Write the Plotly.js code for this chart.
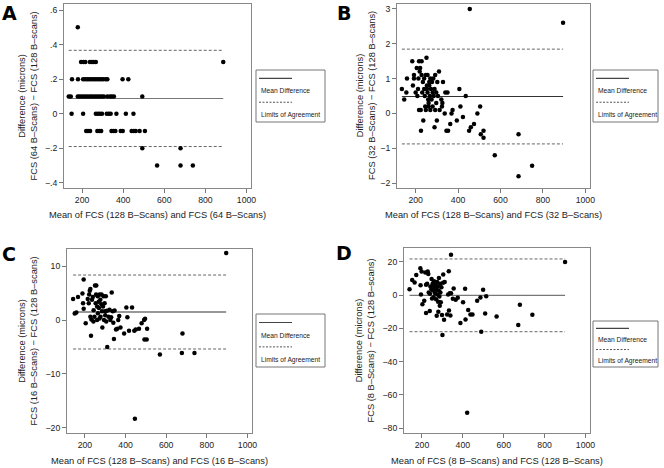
<!DOCTYPE html>
<html><head><meta charset="utf-8">
<script src="https://cdn.plot.ly/plotly-3.0.1.min.js"></script>
<style>html,body{margin:0;padding:0;background:#fff}#chart{width:664px;height:468px}</style>
</head><body><div id="chart"></div>
<script>
// ---------- Panel A : 64 vs 128 B-scans ----------
const xA = [179,
  195,207,216,238,248,257,267,887,
  151,180,205,215,225,234,244,254,264,274,284,293,303,315,323,397,425,
  135,145,179,188,198,208,218,228,238,247,257,267,277,287,297,306,323,336,345,355,493,
  149,205,267,277,287,297,320,330,339,367,413,450,
  220,229,239,274,284,293,343,352,362,388,398,441,451,461,480,506,
  493,679,
  565,679,739];
const yA = [0.5,
  0.3,0.3,0.3,0.3,0.3,0.3,0.3,0.3,
  0.2,0.2,0.2,0.2,0.2,0.2,0.2,0.2,0.2,0.2,0.2,0.2,0.2,0.2,0.2,0.2,0.2,
  0.1,0.1,0.1,0.1,0.1,0.1,0.1,0.1,0.1,0.1,0.1,0.1,0.1,0.1,0.1,0.1,0.1,0.1,0.1,0.1,0.1,
  0,0,0,0,0,0,0,0,0,0,0,0,
  -0.1,-0.1,-0.1,-0.1,-0.1,-0.1,-0.1,-0.1,-0.1,-0.1,-0.1,-0.1,-0.1,-0.1,-0.1,-0.1,
  -0.2,-0.2,
  -0.3,-0.3,-0.3];
const meanA = 0.088, lowA = -0.19, highA = 0.367;
const yTicksA = [-0.4,-0.2,0,0.2,0.4,0.6];
const yTickTextA = ['\u2212.4','\u2212.2','0','.2','.4','.6'];

// ---------- Panel B : 32 vs 128 B-scans ----------
const xB = [455,895,135,146,156,159,184,187,192,192,200,205,208,211,213,216,216,219,221,224,225,228,228,231,234,236,240,240,243,245,248,248,251,253,253,256,256,259,261,261,264,264,267,269,269,272,275,277,280,280,283,285,289,289,292,292,297,297,300,302,305,310,313,321,324,326,329,337,340,345,350,353,363,369,374,394,406,411,423,436,452,460,475,491,504,507,520,520,573,685,685,749];
const yB = [3.0,2.6,0.7,0.4,0.6,1.0,1.5,0.8,1.1,1.0,0.6,1.3,0.5,0.7,1.0,1.5,0.1,1.2,1.3,0.1,-0.5,1.5,1.1,0.6,0.9,-0.2,1.0,0.7,0.5,0.2,1.1,0.1,1.6,0.8,0.7,0.6,1.1,0.4,0.3,0.2,0.9,0.8,0.5,1.0,0.1,0.7,0.4,0.9,0.6,0.2,1.0,0.5,0.7,-0.4,1.1,0.1,0.6,0.3,-0.2,0.9,0.5,1.2,0.1,0.4,0.2,0.3,0.9,0.0,0.6,-0.5,0.6,-0.5,-0.3,0.0,0.1,-0.2,0.7,0.2,-0.1,0.5,-0.5,-0.4,-0.3,0.0,0.2,-0.6,-0.5,-0.7,-1.2,-0.6,-1.8,-1.5];
const meanB = 0.485, lowB = -0.875, highB = 1.845;
const yTicksB = [-2,-1,0,1,2,3];

// ---------- Panel C : 16 vs 128 B-scans ----------
const xC = [895,142,150,158,166,188,194,191,194,204,214,219,221,224,227,230,227,232,235,239,242,243,247,250,253,255,256,260,260,263,264,268,269,272,272,276,277,281,282,284,286,289,292,294,297,299,300,303,305,308,310,316,321,325,329,332,337,340,343,346,353,359,364,369,375,393,404,409,417,432,443,446,450,466,479,491,496,493,504,506,569,680,677,739];
const yC = [12.4,3.9,1.2,1.4,4.25,4.9,7.5,3.1,2.1,-0.6,3.9,3.1,4.7,5.4,5.75,-2.9,0.6,0.1,3.75,4.25,-0.3,1.8,0.6,6.4,3.1,4.7,6.4,2.5,0.0,4.4,1.25,3.4,2.2,4.7,0.3,3.75,0.6,2.9,4.7,1.6,-1.4,2.5,4.4,0.0,3.1,1.6,0.9,4.4,-0.3,1.7,-5.0,0.6,1.9,0.0,0.5,5.1,1.6,-0.5,-3.5,1.75,-1.75,-1.6,0.0,0.75,-1.4,-2.5,2.3,0.5,-2.0,2.3,-2.0,-18.3,-1.75,-1.6,-0.6,0.0,0.25,-3.6,-3.6,-1.6,-6.4,-2.5,-6.1,-6.1];
const meanC = 1.48, lowC = -5.37, highC = 8.33;
const yTicksC = [-20,-10,0,10];

// ---------- Panel D : 8 vs 128 B-scans ----------
const xD = [900,342,139,152,164,172,192,193,195,198,202,211,216,220,220,225,228,231,233,238,239,241,246,247,249,252,254,256,257,259,261,264,264,267,269,270,272,274,275,277,279,280,282,283,285,287,288,290,292,295,298,300,303,304,308,311,323,328,331,332,336,339,342,351,355,365,375,388,401,411,413,421,426,437,447,470,486,490,499,509,514,565,671,679,740];
const yD = [20.0,24.4,3.6,9.2,7.6,12.2,16.2,6.0,0.4,14.2,-5.4,-3.4,13.6,-10.8,6.2,6.8,14.2,12.8,1.6,-9.6,0.8,5.2,3.6,9.8,-2.0,6.8,2.8,5.6,-1.2,8.4,4.4,1.2,7.2,6.0,-2.4,3.2,-12.4,8.0,0.4,5.2,-4.0,-10.0,2.8,10.4,-0.8,-6.4,6.8,1.6,-4.2,4.8,-12.0,-24.0,7.4,12.4,-14.8,8.0,-11.6,0.4,14.4,-9.2,1.2,-12.2,1.2,-2.2,4.0,-2.8,-1.6,-16.8,-4.2,3.8,-14.6,-70.8,-9.0,-11.6,-11.6,-3.4,-1.4,-22.0,3.2,-11.0,-0.6,-12.8,-18.0,-5.8,-11.8];
const meanD = -0.1, lowD = -22.0, highD = 21.8;
const yTicksD = [-80,-60,-40,-20,0,20];

const xTicks = [200,400,600,800,1000];

const W = 664, H = 468;
const FONT = '"Liberation Sans", Arial, Helvetica, sans-serif';
const px = v => v / W;
const py = v => 1 - v / H;

function panelTraces(x, y, mean, lo, hi, ax, solidColor) {
  const x0 = Math.min(...x), x1 = Math.max(...x);
  const xa = 'x' + ax, ya = 'y' + ax;
  return [
    {type:'scatter', mode:'lines', x:[x0,x1], y:[hi,hi], xaxis:xa, yaxis:ya,
     line:{color:'#666', width:1, dash:'3px,2px'}, hoverinfo:'skip', showlegend:false},
    {type:'scatter', mode:'lines', x:[x0,x1], y:[lo,lo], xaxis:xa, yaxis:ya,
     line:{color:'#666', width:1, dash:'3px,2px'}, hoverinfo:'skip', showlegend:false},
    {type:'scatter', mode:'lines', x:[x0,x1], y:[mean,mean], xaxis:xa, yaxis:ya,
     line:{color:solidColor, width:1.2}, hoverinfo:'skip', showlegend:false},
    {type:'scatter', mode:'markers', x:x, y:y, xaxis:xa, yaxis:ya,
     marker:{color:'#000', size:4.5}, showlegend:false}
  ];
}

const data = [].concat(
  panelTraces(xA, yA, meanA, lowA, highA, '', '#777'),
  panelTraces(xB, yB, meanB, lowB, highB, '2', '#333'),
  panelTraces(xC, yC, meanC, lowC, highC, '3', '#333'),
  panelTraces(xD, yD, meanD, lowD, highD, '4', '#777')
);

function xaxisCfg(l, r, anchor) {
  return {domain:[px(l), px(r)], range:[112,1022], anchor:anchor,
    showgrid:false, zeroline:false, showline:true, mirror:true,
    linecolor:'#888', linewidth:1, ticks:'outside', ticklen:4, tickcolor:'#777',
    tickvals:xTicks, tickfont:{family:FONT, size:8.7, color:'#222'}};
}
function yaxisCfg(t, b, range, tv, tt, anchor) {
  const c = {domain:[py(b), py(t)], range:range, anchor:anchor,
    showgrid:false, zeroline:false, showline:true, mirror:true,
    linecolor:'#888', linewidth:1, ticks:'outside', ticklen:4, tickcolor:'#777',
    tickvals:tv, tickfont:{family:FONT, size:8.7, color:'#222'}};
  if (tt) c.ticktext = tt;
  return c;
}

const annotations = [];
const shapes = [];
function title(text, x, y, angle) {
  annotations.push({text:text, xref:'paper', yref:'paper', x:px(x), y:py(y),
    xanchor:'center', yanchor:'middle', showarrow:false, textangle:angle||0,
    font:{family:FONT, size:9.3, color:'#222'}});
}
function letter(t, x, y) {
  annotations.push({text:'<b>'+t+'</b>', xref:'paper', yref:'paper', x:px(x), y:py(y),
    xanchor:'center', yanchor:'middle', showarrow:false,
    font:{family:'"DejaVu Sans", sans-serif', size:19, color:'#000'}});
}
function legendBox(l, t, r, b) {
  shapes.push({type:'rect', xref:'paper', yref:'paper', x0:px(l), x1:px(r), y0:py(b), y1:py(t),
    line:{color:'#777', width:1}, fillcolor:'rgba(0,0,0,0)'});
  const h = b - t;
  const y1 = t + h*0.16, y2 = t + h*0.40, y3 = t + h*0.62, y4 = t + h*0.86;
  shapes.push({type:'line', xref:'paper', yref:'paper', x0:px(l+3), x1:px(l+36), y0:py(y1), y1:py(y1),
    line:{color:'#444', width:1.2}});
  shapes.push({type:'line', xref:'paper', yref:'paper', x0:px(l+3), x1:px(l+36), y0:py(y3), y1:py(y3),
    line:{color:'#555', width:1, dash:'2px,1.5px'}});
  annotations.push({text:'Mean Difference', xref:'paper', yref:'paper', x:px(l+3), y:py(y2),
    xanchor:'left', yanchor:'middle', showarrow:false, font:{family:FONT, size:6.7, color:'#222'}});
  annotations.push({text:'Limits of Agreement', xref:'paper', yref:'paper', x:px(l+3), y:py(y4),
    xanchor:'left', yanchor:'middle', showarrow:false, font:{family:FONT, size:6.7, color:'#222'}});
}

// Panel geometry (pixels)
const A = {l:64, r:251, t:4, b:188};
const B = {l:397, r:590, t:4, b:188};
const C = {l:67, r:252, t:249, b:433};
const D = {l:404, r:590, t:248, b:433};

title('Mean of FCS (128 B\u2013Scans) and FCS (64 B\u2013Scans)', (A.l+A.r)/2, 215);
title('Mean of FCS (128 B\u2013Scans) and FCS (32 B\u2013Scans)', (B.l+B.r)/2, 215);
title('Mean of FCS (128 B\u2013Scans) and FCS (16 B\u2013Scans)', (C.l+C.r)/2, 461);
title('Mean of FCS (8 B\u2013Scans) and FCS (128 B\u2013Scans)', (D.l+D.r)/2, 461);

title('Difference (microns)<br>FCS (64 B\u2013Scans) \u2212 FCS (128 B\u2013scans)', 27.5, (A.t+A.b)/2, -90);
title('Difference (microns)<br>FCS (32 B\u2013Scans) \u2212 FCS (128 B\u2013scans)', 366, (B.t+B.b)/2, -90);
title('Difference (microns)<br>FCS (16 B\u2013Scans) \u2212 FCS (128 B\u2013scans)', 27.5, (C.t+C.b)/2, -90);
title('Difference (microns)<br>FCS (8 B\u2013Scans) \u2212 FCS (128 B\u2013scans)', 364, (D.t+D.b)/2, -90);

letter('A', 9, 13);
letter('B', 344, 13);
letter('C', 9, 254);
letter('D', 344, 253);

legendBox(256, 70, 325, 122);
legendBox(593, 70, 658, 122);
legendBox(256, 314, 325, 367);
legendBox(593, 321, 658, 367);

const layout = {
  width:W, height:H, margin:{l:0, r:0, t:0, b:0},
  paper_bgcolor:'#fff', plot_bgcolor:'#fff', showlegend:false,
  font:{family:FONT},
  xaxis: xaxisCfg(A.l, A.r, 'y'),
  yaxis: yaxisCfg(A.t, A.b, [-0.43, 0.635], yTicksA, yTickTextA, 'x'),
  xaxis2: xaxisCfg(B.l, B.r, 'y2'),
  yaxis2: yaxisCfg(B.t, B.b, [-2.14, 3.14], yTicksB, null, 'x2'),
  xaxis3: xaxisCfg(C.l, C.r, 'y3'),
  yaxis3: yaxisCfg(C.t, C.b, [-20.93, 13.15], yTicksC, null, 'x3'),
  xaxis4: xaxisCfg(D.l, D.r, 'y4'),
  yaxis4: yaxisCfg(D.t, D.b, [-83, 28.4], yTicksD, null, 'x4'),
  annotations: annotations,
  shapes: shapes
};

Plotly.newPlot('chart', data, layout, {staticPlot:true, displayModeBar:false});
</script></body></html>
